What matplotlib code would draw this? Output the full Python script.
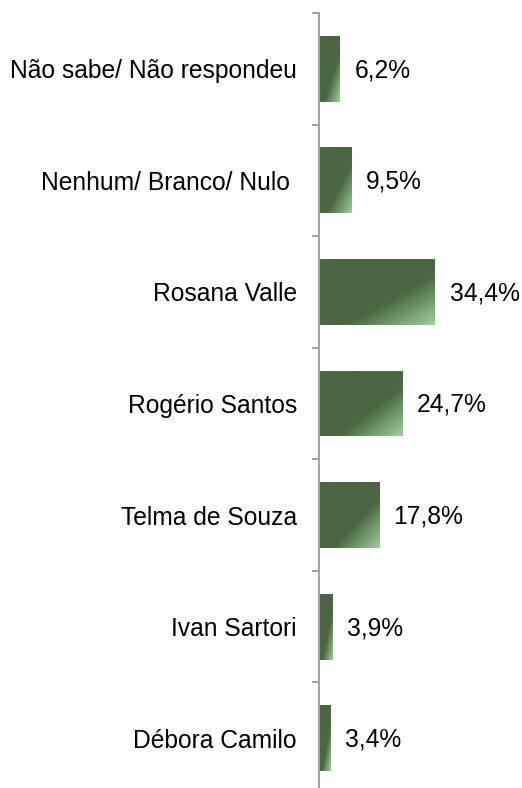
import numpy as np
import matplotlib.pyplot as plt
from matplotlib.colors import LinearSegmentedColormap

categories = ["Não sabe/ Não respondeu", "Nenhum/ Branco/ Nulo ", "Rosana Valle",
              "Rogério Santos", "Telma de Souza", "Ivan Sartori", "Débora Camilo"]
values = [6.2, 9.5, 34.4, 24.7, 17.8, 3.9, 3.4]
value_labels = ["6,2%", "9,5%", "34,4%", "24,7%", "17,8%", "3,9%", "3,4%"]

plt.rcParams['font.family'] = ['Liberation Sans', 'DejaVu Sans']

fig = plt.figure(figsize=(5.22, 7.88), dpi=100)
ax = fig.add_axes([319 / 522, -6 / 788, 203 / 522, 781 / 788])

cmap = LinearSegmentedColormap.from_list(
    "grn", [(0, "#4a6741"), (0.62, "#4a6741"), (1, "#9ccf9a")])
xx, yy = np.meshgrid(np.linspace(0, 1, 60), np.linspace(0, 1, 60))
grad = 0.5 * xx + 0.5 * yy

bar_h = 0.59
y = np.arange(len(categories))
bars = ax.barh(y, values, height=bar_h, color="none")
for b in bars:
    x0, y0 = b.get_x(), b.get_y()
    w, h = b.get_width(), b.get_height()
    im = ax.imshow(grad, cmap=cmap, vmin=0, vmax=1, aspect="auto",
                   extent=[x0, x0 + w, y0, y0 + h], origin="lower",
                   interpolation="bilinear", zorder=2)
    im.set_clip_path(b)

for yi, v, lab in zip(y, values, value_labels):
    ax.annotate(lab, (v, yi), xytext=(10.5, -1), textcoords="offset points",
                va="center", ha="left", fontsize=17.7)

ax.set_xlim(0, 60.2)
ax.set_ylim(len(categories) - 0.5, -0.5)

ax.set_yticks(y, categories, fontsize=17.7)
ax.tick_params(axis="y", which="major", length=0, pad=16)
ax.set_yticks(np.arange(len(categories) + 1) - 0.5, minor=True)
ax.tick_params(axis="y", which="minor", length=5, width=1.5, color="#a0a4a8")
ax.set_xticks([])

for s in ["top", "right", "bottom"]:
    ax.spines[s].set_visible(False)
ax.spines["left"].set_color("#a0a4a8")
ax.spines["left"].set_linewidth(1.5)

fig.savefig("out.png", dpi=100)
